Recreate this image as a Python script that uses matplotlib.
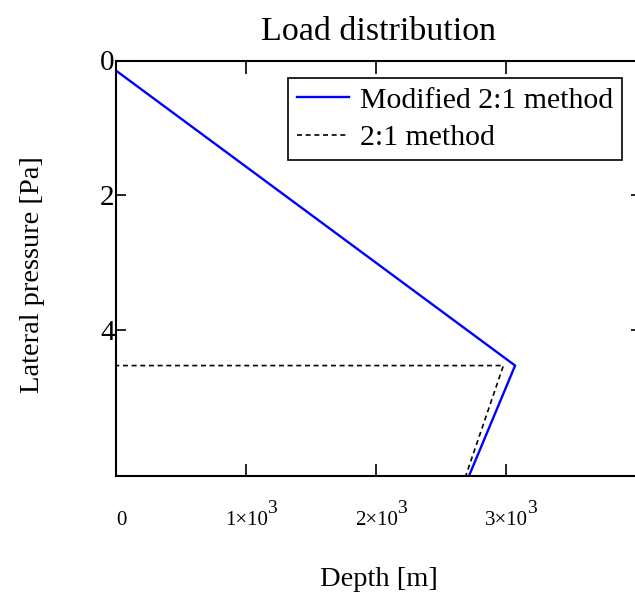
import matplotlib
matplotlib.use("Agg")
import matplotlib.pyplot as plt

plt.rcParams['font.family'] = ['Liberation Serif', 'DejaVu Serif']

# Data (depth x, lateral pressure y)
modified_x = [0, 3070, 2715]
modified_y = [0.15, 4.53, 6.17]
simple_x = [0, 0, 2980, 2690]
simple_y = [0, 4.53, 4.53, 6.17]

xticks = [0, 1000, 2000, 3000]
xtick_bases = ['0', '1\u00d710', '2\u00d710', '3\u00d710']
xtick_exps = ['', '3', '3', '3']
yticks = [0, 2, 4]
yticklabels = ['0', '2', '4']

fig = plt.figure(figsize=(6.35, 6.01), dpi=100)
ax_w_px = 525
ax = fig.add_axes([116/635, 1-476/601, ax_w_px/635, (476-60.5)/601])

ax.plot(modified_x, modified_y, color='#0000ff', lw=1.7, label='Modified 2:1 method')
ax.plot(simple_x, simple_y, color='black', lw=1.2, dashes=(3, 2.2), label='2:1 method')

ax.set_xlim(0, ax_w_px / 130 * 1000)
ax.set_ylim(6.17, 0)
ax.set_xticks(xticks)
ax.set_xticklabels([''] * len(xticks))
ax.set_yticks(yticks)
ax.set_yticklabels(yticklabels, fontsize=21)
ax.tick_params(axis='x', direction='in', length=9, width=1.2, top=True)
ax.tick_params(axis='y', direction='in', length=7, width=1.2, pad=1, right=True)
for s in ax.spines.values():
    s.set_linewidth(1.5)

# x tick labels with full-size exponents
for xv, base, ex in zip(xticks, xtick_bases, xtick_exps):
    if ex:
        ax.annotate(base, xy=(xv, 0), xycoords=('data', 'axes fraction'),
                    xytext=(15.8, -35.3), textcoords='offset points',
                    ha='right', va='baseline', fontsize=15, annotation_clip=False)
        ax.annotate(ex, xy=(xv, 0), xycoords=('data', 'axes fraction'),
                    xytext=(15.5, -26.5), textcoords='offset points',
                    ha='left', va='baseline', fontsize=14, annotation_clip=False)
    else:
        ax.annotate(base, xy=(xv, 0), xycoords=('data', 'axes fraction'),
                    xytext=(3.6, -35.3), textcoords='offset points',
                    ha='center', va='baseline', fontsize=15, annotation_clip=False)

ax.set_title('Load distribution', fontsize=24.5, pad=15)
ax.set_xlabel('Depth [m]', fontsize=20.5, labelpad=62)
ax.set_ylabel('Lateral pressure [Pa]', fontsize=20.5)
ax.yaxis.set_label_coords(-0.135, 0.486)

leg = ax.legend(loc='upper right', bbox_to_anchor=((622-116)/ax_w_px, (476-78)/415.5),
                fontsize=21.5, frameon=True, fancybox=False, framealpha=1,
                edgecolor='black', borderpad=0.3, handlelength=1.75,
                handletextpad=0.35, labelspacing=0.35, borderaxespad=0)
leg.get_frame().set_linewidth(1.2)

fig.savefig('out.png', dpi=100)
